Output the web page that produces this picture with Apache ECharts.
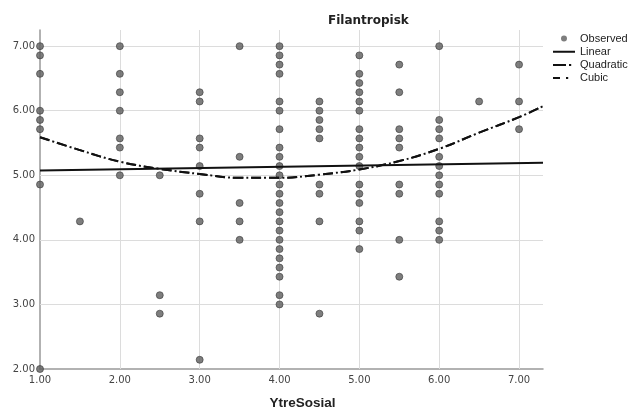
<!DOCTYPE html>
<html>
<head>
<meta charset="utf-8">
<script src="https://cdn.jsdelivr.net/npm/echarts@6/dist/echarts.min.js"></script>
<style>
  html, body { margin: 0; padding: 0; background: #fff; }
  #chart { width: 642px; height: 415px; }
</style>
</head>
<body>
<div id="chart"></div>
<script>
// YtreSosial levels and the observed Filantropisk scores at each level
const ytreSosialLevels = [1, 1.5, 2, 2.5, 3, 3.5, 4, 4.5, 5, 5.5, 6, 6.5, 7];
const filantropiskByLevel = [
  [7.000, 6.857, 6.571, 6.000, 5.857, 5.714, 4.857, 2.000],
  [4.286],
  [7.000, 6.571, 6.286, 6.000, 5.571, 5.429, 5.000],
  [5.000, 3.143, 2.857],
  [6.286, 6.143, 5.571, 5.429, 5.143, 4.714, 4.286, 2.143],
  [7.000, 5.286, 4.571, 4.286, 4.000],
  [7.000, 6.857, 6.714, 6.571, 6.143, 6.000, 5.714, 5.429, 5.286, 5.143, 5.000, 4.857,
   4.714, 4.571, 4.429, 4.286, 4.143, 4.000, 3.857, 3.714, 3.571, 3.429, 3.143, 3.000],
  [6.143, 6.000, 5.857, 5.714, 5.571, 4.857, 4.714, 4.286, 2.857],
  [6.857, 6.571, 6.429, 6.286, 6.143, 6.000, 5.714, 5.571, 5.429, 5.286, 5.143, 4.857,
   4.714, 4.571, 4.286, 4.143, 3.857],
  [6.714, 6.286, 5.714, 5.571, 5.429, 4.857, 4.714, 4.000, 3.429],
  [7.000, 5.857, 5.714, 5.571, 5.286, 5.143, 5.000, 4.857, 4.714, 4.286, 4.143, 4.000],
  [6.143],
  [6.714, 6.143, 5.714]
];

// Fitted curves
const linearX = [1, 7.3];
const linearY = [5.075, 5.195];
const curveX = [1, 1.5, 2, 2.5, 3, 3.5, 4, 4.5, 5, 5.5, 6, 6.5, 7, 7.3];
const quadraticY = [5.59, 5.39, 5.21, 5.10, 5.02, 4.96, 4.96, 5.01, 5.09, 5.22, 5.41, 5.66, 5.90, 6.07];
const cubicY = [5.59, 5.39, 5.21, 5.10, 5.02, 4.96, 4.96, 5.01, 5.09, 5.22, 5.41, 5.66, 5.90, 6.07];

// Gridline positions inside the plot (axis lines cover the first ones)
const xGridValues = [2, 3, 4, 5, 6, 7];
const yGridValues = [3, 4, 5, 6, 7];

const observed = [];
ytreSosialLevels.forEach((x, i) => {
  filantropiskByLevel[i].forEach(y => observed.push([x, y]));
});
const pairs = (xs, ys) => xs.map((x, i) => [x, ys[i]]);

// Legend glyphs drawn in a 22x8 box; the two specks at the corners pin the box size
const BOX = 'M0 0h0.01v0.01h-0.01z M22 8h-0.01v-0.01h0.01z ';
const icons = {
  observed: 'path://' + BOX + 'M14 4a3 3 0 1 0 -6 0a3 3 0 1 0 6 0z',
  linear: 'path://' + BOX + 'M0 3h22v2h-22z',
  quadratic: 'path://' + BOX + 'M0 3h13v2h-13z M16 3h2.2v2h-2.2z',
  cubic: 'path://' + BOX + 'M0 3h7v2h-7z M13 3h2.2v2h-2.2z'
};

const chart = echarts.init(document.getElementById('chart'));
const fmt = v => (Math.abs(v - Math.round(v)) < 1e-9 ? v.toFixed(2) : '');

chart.setOption({
  animation: false,
  backgroundColor: '#fff',
  textStyle: { fontFamily: 'DejaVu Sans' },
  title: {
    text: 'Filantropisk',
    left: 323,
    top: 10,
    textStyle: { fontSize: 12, fontWeight: 'bold', color: '#222', fontFamily: 'DejaVu Sans' }
  },
  legend: {
    orient: 'vertical',
    left: 548,
    top: 28,
    itemWidth: 22,
    itemHeight: 8,
    itemGap: 2.2,
    textStyle: { fontSize: 11, color: '#222', fontFamily: 'Liberation Sans' },
    data: [
      { name: 'Observed', icon: icons.observed, itemStyle: { color: '#5e5e5e', borderWidth: 0 } },
      { name: 'Linear', icon: icons.linear, itemStyle: { color: '#111', borderWidth: 0 } },
      { name: 'Quadratic', icon: icons.quadratic, itemStyle: { color: '#111', borderWidth: 0 } },
      { name: 'Cubic', icon: icons.cubic, itemStyle: { color: '#111', borderWidth: 0 } }
    ]
  },
  grid: { left: 40, right: 99, top: 30, bottom: 43 },
  xAxis: {
    type: 'value',
    min: 1,
    max: 7.3,
    interval: 1,
    name: 'YtreSosial',
    nameLocation: 'middle',
    nameGap: 27,
    nameTextStyle: {
      fontSize: 13.5, fontWeight: 'bold', color: '#222',
      fontFamily: 'Liberation Sans', padding: [0, 0, 0, 22]
    },
    axisLine: { onZero: false, lineStyle: { color: '#999', width: 1.5 } },
    axisTick: { show: false },
    axisLabel: { formatter: fmt, fontSize: 10, color: '#444', margin: 6, showMaxLabel: false },
    splitLine: { show: false }
  },
  yAxis: {
    type: 'value',
    min: 2,
    max: 7.25,
    interval: 1,
    axisLine: { show: true, onZero: false, lineStyle: { color: '#999', width: 1.5 } },
    axisTick: { show: false },
    axisLabel: { formatter: fmt, fontSize: 10, color: '#444', margin: 5, showMaxLabel: false },
    splitLine: { show: false }
  },
  series: [
    {
      name: 'Observed',
      type: 'scatter',
      data: observed,
      symbolSize: 7,
      itemStyle: { color: '#5e5e5e', borderColor: '#3a3a3a', borderWidth: 0.8 },
      z: 2,
      markLine: {
        silent: true,
        z: 1,
        symbol: 'none',
        label: { show: false },
        lineStyle: { color: '#dcdcdc', width: 1, type: 'solid' },
        data: xGridValues.map(v => ({ xAxis: v })).concat(yGridValues.map(v => ({ yAxis: v })))
      }
    },
    {
      name: 'Linear',
      type: 'line',
      data: pairs(linearX, linearY),
      symbol: 'none',
      lineStyle: { color: '#111', width: 2 },
      itemStyle: { color: '#111' },
      z: 3
    },
    {
      name: 'Quadratic',
      type: 'line',
      data: pairs(curveX, quadraticY),
      smooth: 0.4,
      symbol: 'none',
      lineStyle: { color: '#111', width: 2, type: [10, 3, 2, 3] },
      itemStyle: { color: '#111' },
      z: 3
    },
    {
      name: 'Cubic',
      type: 'line',
      data: pairs(curveX, cubicY),
      smooth: 0.4,
      symbol: 'none',
      lineStyle: { color: '#111', width: 2, type: [10, 8] },
      itemStyle: { color: '#111' },
      z: 3
    }
  ]
});
</script>
</body>
</html>
